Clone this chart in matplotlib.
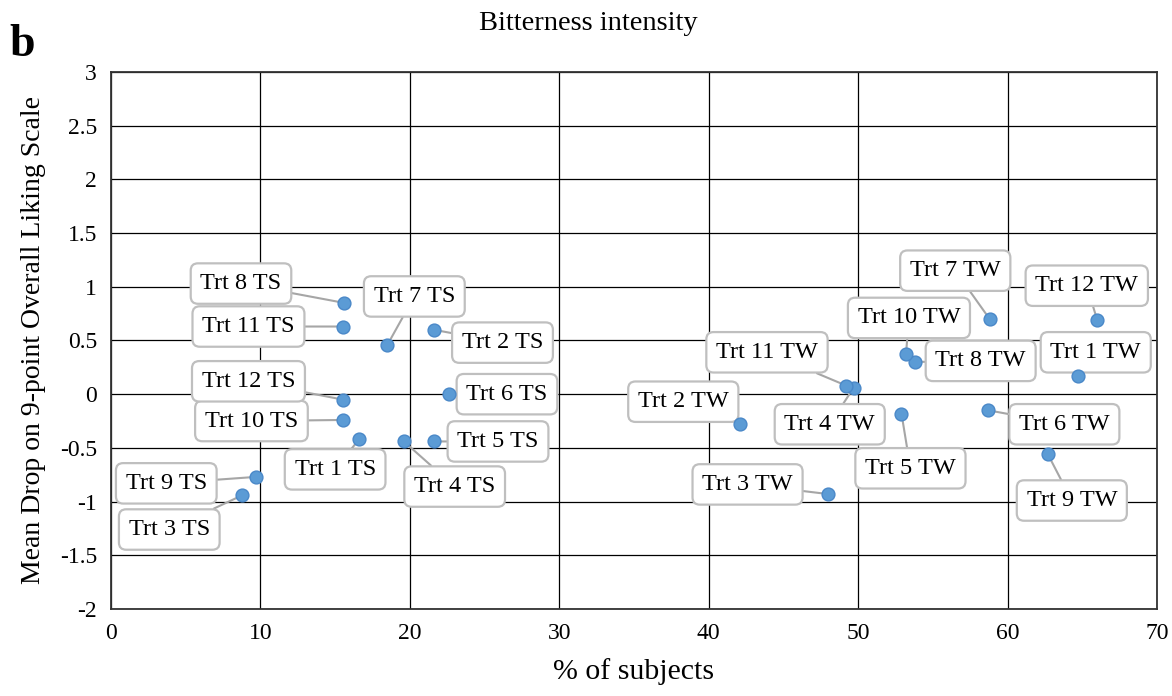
import matplotlib
matplotlib.use("Agg")
import matplotlib.pyplot as plt

# data
labels = ["Trt 1 TS", "Trt 2 TS", "Trt 3 TS", "Trt 4 TS", "Trt 5 TS", "Trt 6 TS",
          "Trt 7 TS", "Trt 8 TS", "Trt 9 TS", "Trt 10 TS", "Trt 11 TS", "Trt 12 TS",
          "Trt 1 TW", "Trt 2 TW", "Trt 3 TW", "Trt 4 TW", "Trt 5 TW", "Trt 6 TW",
          "Trt 7 TW", "Trt 8 TW", "Trt 9 TW", "Trt 10 TW", "Trt 11 TW", "Trt 12 TW"]
pct_subjects = [16.6, 21.6, 8.8, 19.6, 21.6, 22.6, 18.5, 15.6, 9.7, 15.5, 15.5, 15.5,
                64.7, 42.1, 48.0, 49.7, 52.9, 58.7, 58.8, 53.8, 62.7, 53.2, 49.2, 66.0]
mean_drop = [-0.42, 0.60, -0.94, -0.44, -0.44, 0.00, 0.46, 0.85, -0.77, -0.24, 0.63, -0.05,
             0.17, -0.28, -0.93, 0.06, -0.18, -0.15, 0.70, 0.30, -0.56, 0.37, 0.08, 0.69]

# where each data label box sits (data coords, box centre)
label_pos = [(15.0, -0.70), (26.2, 0.48), (3.9, -1.26), (23.0, -0.86), (25.9, -0.44),
             (26.5, 0.00), (20.3, 0.91), (8.7, 1.03), (3.7, -0.83), (9.4, -0.25),
             (9.2, 0.63), (9.2, 0.12),
             (65.9, 0.39), (38.3, -0.07), (42.6, -0.84), (48.1, -0.28), (53.5, -0.69),
             (63.8, -0.28), (56.5, 1.15), (58.2, 0.31), (64.3, -0.99), (53.4, 0.71),
             (43.9, 0.39), (65.3, 1.01)]

plt.rcParams['font.family'] = ['Liberation Serif', 'DejaVu Serif']

fig = plt.figure(figsize=(11.72, 6.96), dpi=100)
ax = fig.add_axes([0.0947, 0.125, 0.8925, 0.7716])

ax.set_xlim(0, 70)
ax.set_ylim(-2, 3)
ax.set_xticks(range(0, 71, 10))
ax.set_yticks([-2, -1.5, -1, -0.5, 0, 0.5, 1, 1.5, 2, 2.5, 3])
ax.set_yticklabels(["-2", "-1.5", "-1", "-0.5", "0", "0.5", "1", "1.5", "2", "2.5", "3"])
ax.grid(True, color='black', linewidth=0.9)
ax.set_axisbelow(True)
for s in ax.spines.values():
    s.set_color('#333333')
    s.set_linewidth(1.3)
ax.tick_params(length=0, labelsize=17, pad=10)

ax.scatter(pct_subjects, mean_drop, s=85, color='#5B9BD5', edgecolors='#4A88C8',
           linewidths=1, zorder=5)

for name, x, y, (lx, ly) in zip(labels, pct_subjects, mean_drop, label_pos):
    ax.annotate(name, xy=(x, y), xytext=(lx, ly), textcoords='data',
                ha='center', va='center', fontsize=17.5, zorder=4,
                bbox=dict(boxstyle='round,pad=0.4,rounding_size=0.3', fc='white',
                          ec='#BFBFBF', lw=1.6),
                arrowprops=dict(arrowstyle='-', color='#A6A6A6', lw=1.5,
                                shrinkA=0, shrinkB=4))

ax.set_xlabel("% of subjects", fontsize=21.5, labelpad=10)
ax.set_ylabel("Mean Drop on 9-point Overall Liking Scale", fontsize=20, labelpad=10)
fig.text(0.502, 0.966, "Bitterness intensity", ha='center', va='center', fontsize=20.5)
fig.text(0.008, 0.935, "b", ha='left', va='center', fontsize=33, fontweight='bold')

fig.savefig("out.png", dpi=100)
